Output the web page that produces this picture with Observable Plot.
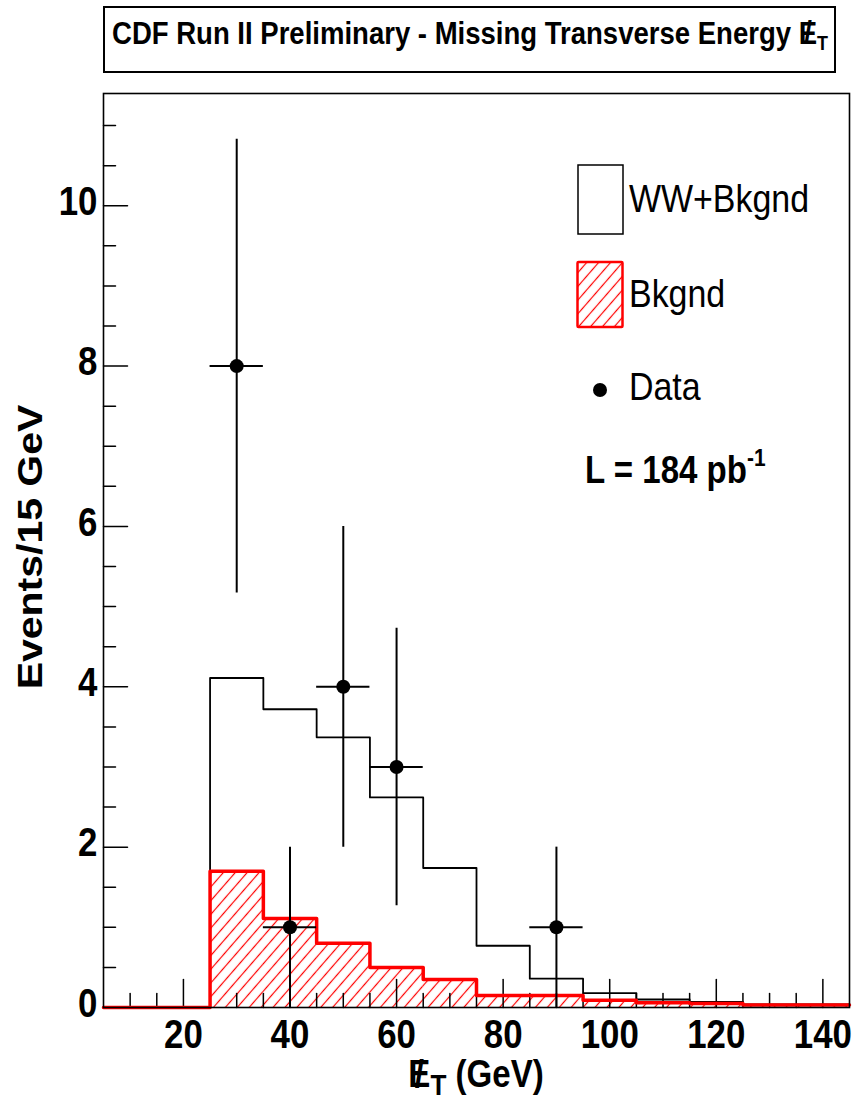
<!DOCTYPE html>
<html>
<head>
<meta charset="utf-8">
<script src="https://cdn.jsdelivr.net/npm/d3@7"></script>
<script src="https://cdn.jsdelivr.net/npm/@observablehq/plot@0.6"></script>
<style>
  body { margin: 0; background: #fff; font-family: "Liberation Sans", Arial, Helvetica, sans-serif; }
  #title {
    position: relative;
    margin: 6px 0 0 103px; width: 733px; height: 67px; box-sizing: border-box;
    border: 2px solid #000;
  }
  #title span.t {
    position: absolute; left: 50%; top: 9px;
    display: inline-block; font-size: 32px; line-height: 32px; font-weight: bold;
    transform: translateX(-50%) scaleX(0.86); transform-origin: center; white-space: nowrap;
  }
  #title .met { position: relative; }
  #title .sl { position: absolute; left: 0.2em; top: 0.04em; }
  #title .sub { font-size: 0.65em; vertical-align: -0.3em; }
  #chart { margin-top: 7px; }
</style>
</head>
<body>
<div id="title"><span class="t">CDF Run II Preliminary - Missing Transverse Energy <span class="met">E<span class="sl">/</span></span><span class="sub">T</span></span></div>
<div id="chart"></div>
<script>
// ---- data ----
const binLow  = [5, 15, 25, 35, 45, 55, 65, 75, 85, 95, 105, 115, 125, 135];
const binHigh = [15, 25, 35, 45, 55, 65, 75, 85, 95, 105, 115, 125, 135, 145];
const wwPlusBkgnd = [0, 0, 4.11, 3.72, 3.37, 2.62, 1.74, 0.77, 0.36, 0.18, 0.10, 0.07, 0.04, 0.04];
const bkgnd       = [0, 0, 1.70, 1.11, 0.80, 0.50, 0.35, 0.15, 0.15, 0.09, 0.06, 0.05, 0.03, 0.03];

const dataX    = [30, 40, 50, 60, 90];
const dataY    = [8, 1, 4, 3, 1];
const dataYErr = [2.83, 1, 2, 1.73, 1];
const dataXErr = [5, 5, 5, 5, 5];

const yMajorTicks = [0, 2, 4, 6, 8, 10];
const yMinorTicks = [0.5, 1, 1.5, 2.5, 3, 3.5, 4.5, 5, 5.5, 6.5, 7, 7.5, 8.5, 9, 9.5, 10.5, 11];
const xMajorTicks = [20, 40, 60, 80, 100, 120, 140];
const xMinorTicks = [10, 15, 25, 30, 35, 45, 50, 55, 65, 70, 75, 85, 90, 95, 105, 110, 115, 125, 130, 135];

// ---- derived tables ----
const bins = binLow.map((x1, i) => ({x1, x2: binHigh[i], ww: wwPlusBkgnd[i], bk: bkgnd[i]}));
const stepsOf = (vals) => binLow.map((x, i) => ({x, y: vals[i]}))
  .concat([{x: binHigh[binHigh.length - 1], y: vals[vals.length - 1]}]);
const wwSteps = stepsOf(wwPlusBkgnd);
const bkSteps = stepsOf(bkgnd);
const points = dataX.map((x, i) => ({x, y: dataY[i], ey: dataYErr[i], ex: dataXErr[i]}));

const lineShape = {draw(context, l) { context.moveTo(0, 0); context.lineTo(0, -l); }};

const defsMark = () => {
  const defs = d3.create("svg:defs");
  const p = defs.append("pattern").attr("id", "hatch").attr("patternUnits", "userSpaceOnUse")
    .attr("width", 9).attr("height", 9).attr("patternTransform", "rotate(41)");
  p.append("line").attr("x1", 4.5).attr("y1", -1).attr("x2", 4.5).attr("y2", 10)
    .attr("stroke", "#ff0000").attr("stroke-width", 1.2);
  return defs.node();
};

const W = 852, H = 1023;
const chart = Plot.plot({
  width: W, height: H,
  marginLeft: 103, marginRight: 3, marginTop: 13, marginBottom: 96,
  style: {fontFamily: '"Liberation Sans", Arial, sans-serif', background: "#fff", color: "#000"},
  x: {domain: [5, 145]},
  y: {domain: [0, 11.4]},
  marks: [
    defsMark,
    Plot.rectY(bins, {x1: "x1", x2: "x2", y: "bk", fill: "url(#hatch)", inset: 0}),
    // inward ticks
    Plot.vector(xMajorTicks, {x: d => d, frameAnchor: "bottom", length: 28, rotate: 0, anchor: "start", shape: lineShape, stroke: "#000", strokeWidth: 1.5}),
    Plot.vector(xMinorTicks, {x: d => d, frameAnchor: "bottom", length: 14, rotate: 0, anchor: "start", shape: lineShape, stroke: "#000", strokeWidth: 1.5}),
    Plot.vector(yMajorTicks, {y: d => d, frameAnchor: "left", length: 24, rotate: 90, anchor: "start", shape: lineShape, stroke: "#000", strokeWidth: 1.5}),
    Plot.vector(yMinorTicks, {y: d => d, frameAnchor: "left", length: 12, rotate: 90, anchor: "start", shape: lineShape, stroke: "#000", strokeWidth: 1.5}),
    Plot.line(wwSteps, {x: "x", y: "y", curve: "step-after", stroke: "#000", strokeWidth: 1.8}),
    Plot.line(bkSteps, {x: "x", y: "y", curve: "step-after", stroke: "#ff0000", strokeWidth: 3.5}),
    Plot.frame({stroke: "#000", strokeWidth: 1.6}),
    Plot.ruleX(points, {x: "x", y1: d => d.y - d.ey, y2: d => d.y + d.ey, stroke: "#000", strokeWidth: 2}),
    Plot.ruleY(points, {y: "y", x1: d => d.x - d.ex, x2: d => d.x + d.ex, stroke: "#000", strokeWidth: 2}),
    Plot.dot(points, {x: "x", y: "y", r: 7, fill: "#000", stroke: null}),
    Plot.axisX({ticks: xMajorTicks, tickSize: 0, tickPadding: 11, fontSize: 41, fontWeight: "bold", label: null}),
    Plot.axisY({ticks: yMajorTicks, tickSize: 0, tickPadding: 6, fontSize: 41, fontWeight: "bold", label: null, dy: -4})
  ]
});
document.getElementById("chart").appendChild(chart);

const svg = d3.select(chart);
// condense axis tick label glyphs like the reference
svg.selectAll('g[aria-label="x-axis tick label"] text, g[aria-label="y-axis tick label"] text')
  .attr("transform", function () { return (this.getAttribute("transform") || "") + " scale(0.85,1)"; });

// axis titles
svg.append("text")
  .attr("transform", "translate(42,467) scale(0.87,1) rotate(-90)")
  .attr("text-anchor", "middle").attr("font-size", 41).attr("font-weight", "bold")
  .text("Events/15 GeV");

const xl = svg.append("text")
  .attr("transform", "translate(476,1007) scale(0.87,1)")
  .attr("text-anchor", "middle").attr("font-size", 38).attr("font-weight", "bold");
xl.append("tspan").text("E");
xl.append("tspan").attr("dx", "-0.47em").text("/");
xl.append("tspan").attr("font-size", 30).attr("dx", "0.25em").attr("dy", 8).text("T");
xl.append("tspan").attr("dy", -8).text(" (GeV)");

// legend
const lg = svg.append("g").attr("text-anchor", "start");
lg.append("rect").attr("x", 578).attr("y", 85).attr("width", 45).attr("height", 69)
  .attr("fill", "none").attr("stroke", "#000").attr("stroke-width", 1.5);
lg.append("text").attr("transform", "translate(629,132) scale(0.87,1)").attr("font-size", 39).text("WW+Bkgnd");
lg.append("rect").attr("x", 577.5).attr("y", 182).attr("width", 45).attr("height", 65).attr("rx", 1)
  .attr("fill", "url(#hatch)").attr("stroke", "#ff0000").attr("stroke-width", 2.5);
lg.append("text").attr("transform", "translate(629,227) scale(0.87,1)").attr("font-size", 39).text("Bkgnd");
lg.append("circle").attr("cx", 600).attr("cy", 310).attr("r", 7).attr("fill", "#000");
lg.append("text").attr("transform", "translate(629,320) scale(0.87,1)").attr("font-size", 39).text("Data");
const lt = lg.append("text").attr("transform", "translate(585,403) scale(0.87,1)")
  .attr("font-size", 38).attr("font-weight", "bold");
lt.append("tspan").text("L = 184 pb");
lt.append("tspan").attr("font-size", 24).attr("dy", -17).text("-1");
</script>
</body>
</html>
